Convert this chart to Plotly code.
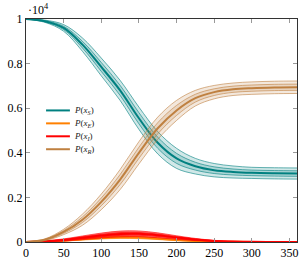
import plotly.graph_objects as go

# time grid (days)
t = [0, 25, 50, 75, 100, 125, 150, 175, 200, 225, 250, 275, 300, 330, 360]

# mean trajectories (counts)
S_mean = [10000, 9900, 9600, 8850, 7850, 6800, 5550, 4450, 3750, 3400, 3220, 3140, 3100, 3080, 3070]
E_mean = [0, 20, 60, 120, 180, 210, 200, 150, 90, 45, 20, 10, 5, 0, 0]
I_mean = [0, 30, 90, 190, 290, 360, 365, 300, 200, 110, 50, 20, 10, 3, 0]
R_mean = [0, 100, 450, 1000, 1800, 2800, 4000, 5100, 5900, 6450, 6720, 6850, 6900, 6930, 6940]

# outer half-width of the uncertainty band (counts)
S_spread = [0, 50, 150, 300, 400, 450, 500, 500, 450, 350, 300, 270, 250, 250, 250]
E_spread = [0, 10, 20, 35, 45, 50, 50, 40, 30, 20, 10, 5, 2, 0, 0]
I_spread = [0, 20, 50, 80, 110, 130, 130, 110, 80, 50, 25, 10, 5, 2, 0]
R_spread = [0, 40, 120, 250, 350, 450, 500, 500, 450, 350, 300, 280, 280, 280, 280]

names = ["<i>P</i>(<i>x<sub>S</sub></i>)", "<i>P</i>(<i>x<sub>E</sub></i>)",
         "<i>P</i>(<i>x<sub>I</sub></i>)", "<i>P</i>(<i>x<sub>R</sub></i>)"]
means = [S_mean, E_mean, I_mean, R_mean]
spreads = [S_spread, E_spread, I_spread, R_spread]
rgbs = [(0, 128, 128), (255, 128, 0), (255, 0, 0), (191, 128, 64)]
alphas = [0.18, 0.35, 0.5, 0.18]

y_ticks = [0, 2000, 4000, 6000, 8000, 10000]
y_labels = ["0", "0.2", "0.4", "0.6", "0.8", "1"]
x_ticks = [0, 50, 100, 150, 200, 250, 300, 350]

fig = go.Figure()
for name, mean, spread, (r, g, b), a in zip(names, means, spreads, rgbs, alphas):
    col = f"rgb({r},{g},{b})"
    for k in (1.0, 0.5):
        lo = [m - k * s for m, s in zip(mean, spread)]
        hi = [m + k * s for m, s in zip(mean, spread)]
        fig.add_trace(go.Scatter(x=t, y=lo, mode="lines", line=dict(color=col, width=0.6, shape="spline"),
                                 showlegend=False, hoverinfo="skip"))
        fig.add_trace(go.Scatter(x=t, y=hi, mode="lines", line=dict(color=col, width=0.6, shape="spline"),
                                 fill="tonexty", fillcolor=f"rgba({r},{g},{b},{a})",
                                 showlegend=False, hoverinfo="skip"))
    fig.add_trace(go.Scatter(x=t, y=mean, mode="lines", name=name, showlegend=False,
                             line=dict(color=col, width=2, shape="spline")))

# hand-built compact legend (pgfplots style)
legend_y = [0.590, 0.532, 0.474, 0.416]
shapes = []
annotations = []
for name, (r, g, b), ly in zip(names, rgbs, legend_y):
    shapes.append(dict(type="line", xref="paper", yref="paper", x0=0.074, x1=0.162, y0=ly, y1=ly,
                       line=dict(color=f"rgb({r},{g},{b})", width=2)))
    annotations.append(dict(text=name, xref="paper", yref="paper", x=0.17, y=ly, xanchor="left",
                            yanchor="middle", showarrow=False,
                            font=dict(family="Liberation Serif", size=9, color="#222")))
annotations.append(dict(text="·10<sup>4</sup>", xref="paper", yref="paper", x=0.0, y=1.0,
                        xanchor="left", yanchor="bottom", showarrow=False,
                        font=dict(family="Liberation Serif", size=12, color="black")))

axis_common = dict(showgrid=False, zeroline=False, showline=True, linecolor="#333", linewidth=1,
                   mirror="allticks", ticks="inside", ticklen=4, tickcolor="#999", automargin=False,
                   tickfont=dict(family="Liberation Serif", size=12, color="black"))

fig.update_layout(
    width=305, height=261,
    margin=dict(l=26, r=8, t=19, b=19),
    plot_bgcolor="white", paper_bgcolor="white",
    xaxis=dict(range=[0, 360], tickvals=x_ticks, **axis_common),
    yaxis=dict(range=[0, 10000], tickvals=y_ticks, ticktext=y_labels, **axis_common),
    showlegend=False,
    shapes=shapes,
    annotations=annotations,
)

fig.write_html("out.html", config={"displayModeBar": False},
               post_script="document.body.style.margin='0';document.body.style.overflow='hidden';")
